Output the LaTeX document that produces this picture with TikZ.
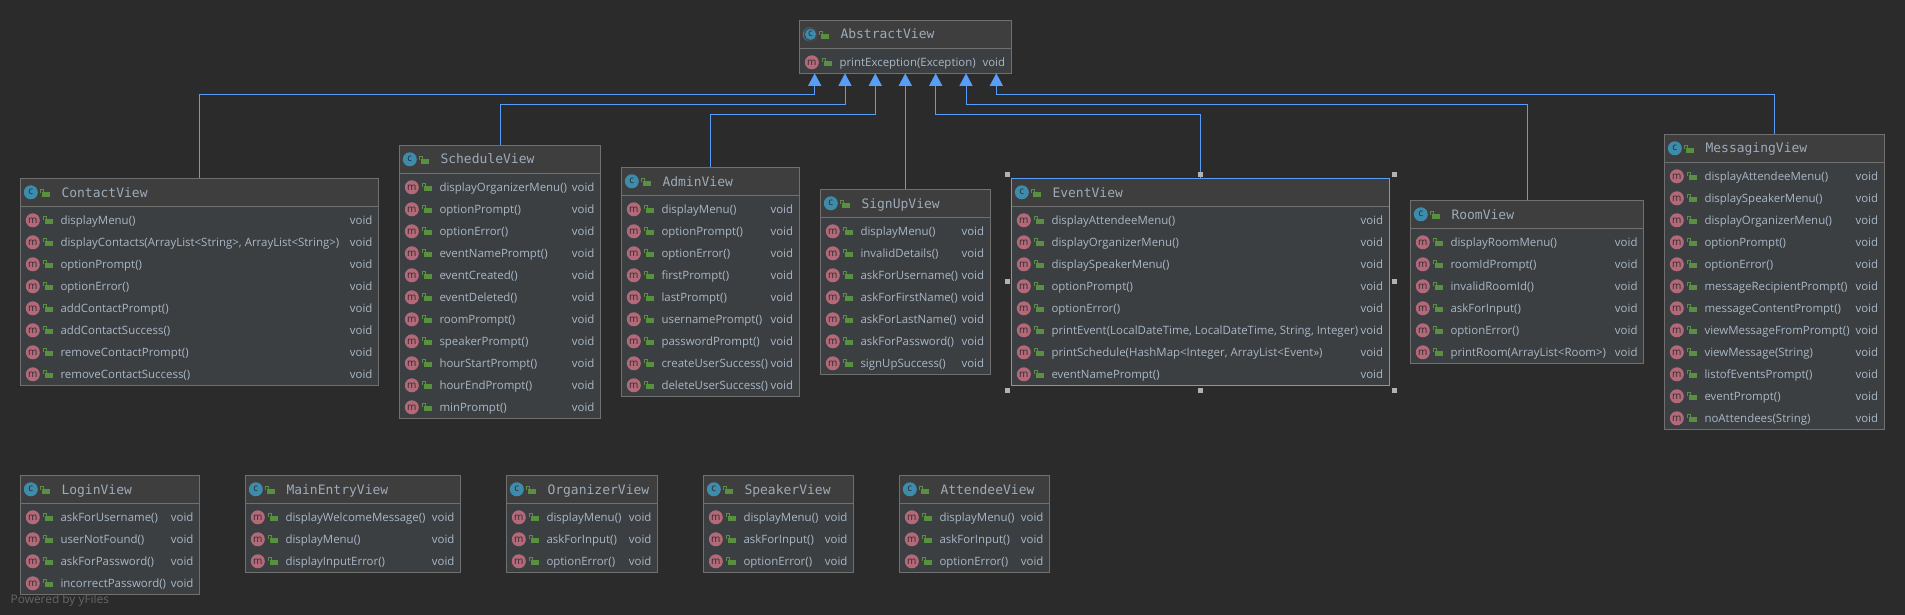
\documentclass[tikz,border=0pt]{standalone}
\usepackage{fontspec}
\setmainfont{Open Sans}
\setmonofont{DejaVu Sans Mono}
\usetikzlibrary{arrows.meta}

\definecolor{canvasbg}{HTML}{2B2B2B}
\definecolor{headbg}{HTML}{3E3E3E}
\definecolor{bodybg}{HTML}{3C3F41}
\definecolor{boxline}{HTML}{707070}
\definecolor{textfg}{HTML}{A9B7C6}
\definecolor{titlefg}{HTML}{9DABB9}
\definecolor{linkblue}{HTML}{589DF6}
\definecolor{lockgreen}{HTML}{59903F}
\definecolor{methodpink}{HTML}{B4697A}
\definecolor{classteal}{HTML}{3E8CAB}

\tikzset{
  classbox/.style={draw=boxline, fill=bodybg, line width=1pt, inner sep=0pt, outer sep=0pt, anchor=north west},
  selected/.style={draw=linkblue},
  titletext/.style={anchor=base west, inner sep=0pt, text=titlefg, font=\fontsize{13}{13}\ttfamily},
  rowtext/.style={anchor=base west, inner sep=0pt, text=textfg, font=\fontsize{11.45}{13}\selectfont},
  voidtext/.style={anchor=base east, inner sep=0pt, text=textfg, font=\fontsize{11.45}{13}\selectfont},
  badge/.style={circle, minimum size=14pt, inner sep=0pt, text=canvasbg, font=\fontsize{10}{10}\selectfont},
  extends/.style={draw=linkblue, line width=1pt, -{Triangle[length=12.5pt,width=13pt]}},
  handle/.style={fill=black!30, minimum size=5pt, inner sep=0pt},
  lockicon/.pic={
    \fill[lockgreen] (0,0) rectangle (7.5,4.8);
    \draw[lockgreen, line width=1.1pt] (-2,1) -- (-2,-2.6) -- (1,-2.6) -- (1,0);
  }
}

% one class: name, left, right, top, number of rows, rows
\newcommand{\drawclass}[7][]{
  \node[classbox, #1, minimum width={(#4-#3)*1pt}, minimum height={(31+22*#6)*1pt}] (#2) at (#3,#5) {};
  \fill[headbg] (#3+.5,#5+.5) rectangle (#4-.5,#5+27.5);
  \draw[boxline] (#3+.5,#5+28) -- (#4-.5,#5+28);
  \node[badge, fill=classteal] (#2-icon) at (#3+10.5,#5+14) {c};
  \pic at (#3+22,#5+13.5) {lockicon};
  \node[titletext] (#2-title) at (#3+41,#5+18.7) {#2};
  \foreach \rowlabel [count=\i] in {#7} {
    \node[badge, fill=methodpink] (#2-m\i) at (#3+12.5,#5+42+22*\i-22) {m};
    \pic at (#3+25,#5+40.5+22*\i-22) {lockicon};
    \node[rowtext] (#2-row\i) at (#3+40,#5+46+22*\i-22) {\rowlabel};
    \node[voidtext] (#2-void\i) at (#4-6,#5+46+22*\i-22) {void};
  }
}

\begin{document}
\begin{tikzpicture}[x=1pt, y=-1pt]
\useasboundingbox[fill=canvasbg] (0,0) rectangle (1905,615);

% Parent class
\drawclass{AbstractView}{799.3}{1011.3}{20.3}{1}{printException(Exception)}
\fill[canvasbg!60!boxline] (810.5,34.3) circle (7pt);
\node[badge, fill=classteal, minimum size=11pt] (AbstractView-inner) at (810.5,34.3) {c};

% Subclasses
\drawclass{ContactView}{20.3}{378.7}{178.3}{8}{displayMenu(),{displayContacts(ArrayList<String>, ArrayList<String>)},optionPrompt(),optionError(),addContactPrompt(),addContactSuccess(),removeContactPrompt(),removeContactSuccess()}
\drawclass{ScheduleView}{399.3}{600.7}{145.3}{11}{displayOrganizerMenu(),optionPrompt(),optionError(),eventNamePrompt(),eventCreated(),eventDeleted(),roomPrompt(),speakerPrompt(),hourStartPrompt(),hourEndPrompt(),minPrompt()}
\drawclass{AdminView}{621.3}{799.3}{167.3}{9}{displayMenu(),optionPrompt(),optionError(),firstPrompt(),lastPrompt(),usernamePrompt(),passwordPrompt(),createUserSuccess(),deleteUserSuccess()}
\drawclass{SignUpView}{820.3}{990.3}{189.3}{7}{displayMenu(),invalidDetails(),askForUsername(),askForFirstName(),askForLastName(),askForPassword(),signUpSuccess()}
\drawclass[selected]{EventView}{1011.3}{1389.3}{178.3}{8}{displayAttendeeMenu(),displayOrganizerMenu(),displaySpeakerMenu(),optionPrompt(),optionError(),{printEvent(LocalDateTime, LocalDateTime, String, Integer)},{printSchedule(HashMap<Integer, ArrayList<Event>>)},eventNamePrompt()}
\drawclass{RoomView}{1410.3}{1643.7}{200.3}{6}{displayRoomMenu(),roomIdPrompt(),invalidRoomId(),askForInput(),optionError(),printRoom(ArrayList<Room>)}
\drawclass{MessagingView}{1664.3}{1884.3}{134.3}{12}{displayAttendeeMenu(),displaySpeakerMenu(),displayOrganizerMenu(),optionPrompt(),optionError(),messageRecipientPrompt(),messageContentPrompt(),viewMessageFromPrompt(),viewMessage(String),listofEventsPrompt(),eventPrompt(),noAttendees(String)}

% Bottom row
\drawclass{LoginView}{20.3}{199.7}{475.3}{4}{askForUsername(),userNotFound(),askForPassword(),incorrectPassword()}
\drawclass{MainEntryView}{245.3}{460.7}{475.3}{3}{displayWelcomeMessage(),displayMenu(),displayInputError()}
\drawclass{OrganizerView}{506.3}{657.7}{475.3}{3}{displayMenu(),askForInput(),optionError()}
\drawclass{SpeakerView}{703.3}{853.7}{475.3}{3}{displayMenu(),askForInput(),optionError()}
\drawclass{AttendeeView}{899.3}{1049.7}{475.3}{3}{displayMenu(),askForInput(),optionError()}

% Inheritance arrows
\foreach \cls/\off/\lev in {ContactView/-90.6/21, ScheduleView/-60.3/31, AdminView/-30/41, SignUpView/0/41, EventView/30.4/41, RoomView/60.7/31, MessagingView/91/21}
  \draw[extends] (\cls.north) |- ([xshift=\off pt, yshift=-\lev pt]AbstractView.south) -- ([xshift=\off pt]AbstractView.south);

% Selection handles
\foreach \a/\dx/\dy [count=\i] in {north west/-4/4, north/0/4, north east/5/4, east/5/0, south east/5/-5, south/0/-5, south west/-4/-5, west/-4/0}
  \node[handle] (handle\i) at ([xshift=\dx pt, yshift=\dy pt]EventView.\a) {};

\node[anchor=base west, inner sep=0pt, text=black!60, font=\fontsize{11.9}{12}\selectfont] (poweredby) at (10.5,603) {Powered by yFiles};

\end{tikzpicture}
\end{document}
